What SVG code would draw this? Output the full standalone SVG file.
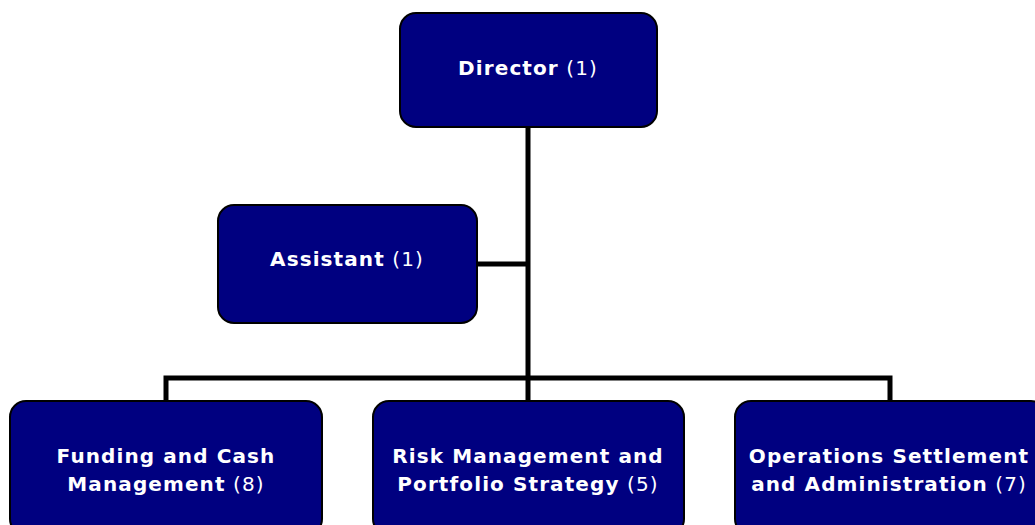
<svg xmlns="http://www.w3.org/2000/svg" width="1035" height="525" viewBox="0 0 1035 525">
<style>
.box{fill:#000080;stroke:#000;stroke-width:2}
.t{font-family:"DejaVu Sans",Verdana,sans-serif;font-size:20px;letter-spacing:1.1px;fill:#fff;text-anchor:middle}
.b{font-weight:bold}
.c{stroke:#000;stroke-width:5;fill:none}
</style>
<rect width="1035" height="525" fill="#fff"/>
<g id="connectors">
<path class="c" d="M528,127V378M477,264H528M166,401V378H890V401M528,378V401"/>
</g>
<g id="director">
<rect class="box" x="400" y="13" width="257" height="114" rx="16"/>
<text class="t" x="528" y="75"><tspan class="b">Director</tspan> (1)</text>
</g>
<g id="assistant">
<rect class="box" x="218" y="205" width="259" height="118" rx="16"/>
<text class="t" x="347" y="266"><tspan class="b">Assistant</tspan> (1)</text>
</g>
<g id="funding">
<rect class="box" x="10" y="401" width="312" height="134" rx="16"/>
<text class="t" x="166" y="463"><tspan class="b">Funding and Cash</tspan></text>
<text class="t" x="166" y="491"><tspan class="b">Management</tspan> (8)</text>
</g>
<g id="risk">
<rect class="box" x="373" y="401" width="311" height="134" rx="16"/>
<text class="t" x="528" y="463"><tspan class="b">Risk Management and</tspan></text>
<text class="t" x="528" y="491"><tspan class="b">Portfolio Strategy</tspan> (5)</text>
</g>
<g id="operations">
<rect class="box" x="735" y="401" width="312" height="134" rx="16"/>
<text class="t" x="889" y="463"><tspan class="b">Operations Settlement</tspan></text>
<text class="t" x="889" y="491"><tspan class="b">and Administration</tspan> (7)</text>
</g>
</svg>
